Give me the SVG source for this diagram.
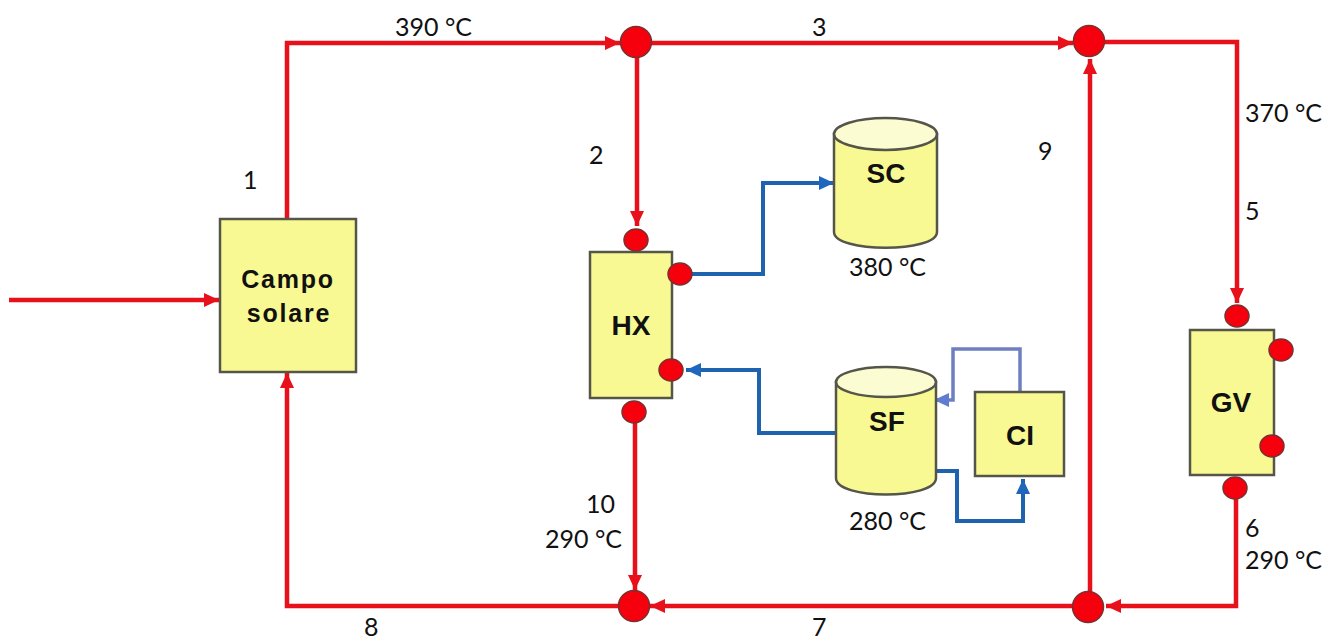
<svg xmlns="http://www.w3.org/2000/svg" width="1325" height="642" viewBox="0 0 1325 642">
<style>
.box{fill:#f9f993;stroke:#55554a;stroke-width:2.5}
.top{fill:#fcfcd2;stroke:#55554a;stroke-width:2.5}
.dot{fill:#f5000c;stroke:#7a3030;stroke-width:1.5}
.red{fill:none;stroke:#e8101a;stroke-width:4.500;stroke-linejoin:miter}
.blue{fill:none;stroke:#1f62ad;stroke-width:4}
.pale{fill:none;stroke:#6d7fc0;stroke-width:3.500}
.t{font-family:"Lato","Carlito","Open Sans",sans-serif;font-size:25px;fill:#111}
.b{font-family:"Liberation Sans",Arial,sans-serif;font-size:28px;font-weight:bold;fill:#111;text-anchor:middle}
.c{font-size:25px;letter-spacing:1.8px}
</style>
<defs>
<marker id="ar" markerUnits="userSpaceOnUse" markerWidth="16" markerHeight="16" refX="15" refY="8" orient="auto"><path d="M0 1L15 8L0 15Z" fill="#e8101a"/></marker>
<marker id="ab" markerUnits="userSpaceOnUse" markerWidth="16" markerHeight="16" refX="15" refY="8" orient="auto"><path d="M0 1L15 8L0 15Z" fill="#1f66bd"/></marker>
<marker id="ap" markerUnits="userSpaceOnUse" markerWidth="16" markerHeight="16" refX="15" refY="8" orient="auto"><path d="M0 1L15 8L0 15Z" fill="#5f7cd0"/></marker>
</defs>
<g id="connectors">
<path class="red" marker-end="url(#ar)" d="M9 300H219"/>
<path class="red" marker-end="url(#ar)" d="M287 219V43H620"/>
<path class="red" marker-end="url(#ar)" d="M637 43H1073"/>
<path class="red" marker-end="url(#ar)" d="M637 42V226"/>
<path class="red" marker-end="url(#ar)" d="M1088 42H1237V303"/>
<path class="red" marker-end="url(#ar)" d="M1236 488V606H1106"/>
<path class="red" marker-end="url(#ar)" d="M1088 606H650"/>
<path class="red" marker-end="url(#ar)" d="M1090 606V59"/>
<path class="red" marker-end="url(#ar)" d="M635 412V590"/>
<path class="red" marker-end="url(#ar)" d="M634 606H287V373"/>
<path class="blue" marker-end="url(#ab)" d="M680 274H763V183H834"/>
<path class="blue" marker-end="url(#ab)" d="M836 433H759V370H686"/>
<path class="blue" marker-end="url(#ab)" d="M936 471H957V521H1023V479"/>
<path class="pale" marker-end="url(#ap)" d="M1020 392V349H953V400H934"/>
</g>
<g id="campo"><rect class="box" x="220" y="219" width="136" height="153"/><text class="b c" x="288" y="288">Campo</text><text class="b c" x="289" y="322">solare</text></g>
<g id="hx"><rect class="box" x="590" y="252" width="82" height="146"/><text class="b" x="631" y="335">HX</text></g>
<g id="gv"><rect class="box" x="1190" y="330" width="84" height="145"/><text class="b" x="1231" y="412">GV</text></g>
<g id="ci"><rect class="box" x="975" y="392" width="89" height="84"/><text class="b" x="1020" y="445">CI</text></g>
<g id="sc"><path class="box" d="M834 134V232C834 253 937 253 937 232V134Z"/><ellipse class="top" cx="885.500" cy="134" rx="51.500" ry="16"/><text class="b" x="886" y="183">SC</text></g>
<g id="sf"><path class="box" d="M836 382V478C836 500 936 500 936 478V382Z"/><ellipse class="top" cx="886" cy="382" rx="50" ry="15"/><text class="b" x="887" y="431">SF</text></g>
<g id="joints">
<circle class="dot" cx="636" cy="42" r="15.500"/>
<circle class="dot" cx="1089" cy="41" r="15.500"/>
<circle class="dot" cx="634" cy="606" r="15.500"/>
<circle class="dot" cx="1088" cy="607" r="15.500"/>
<ellipse class="dot" cx="636" cy="240" rx="12" ry="11"/>
<ellipse class="dot" cx="634" cy="412" rx="12" ry="11"/>
<ellipse class="dot" cx="680" cy="274" rx="12" ry="11"/>
<ellipse class="dot" cx="671" cy="370" rx="12" ry="11"/>
<ellipse class="dot" cx="1237" cy="316" rx="12" ry="11"/>
<ellipse class="dot" cx="1235" cy="488" rx="12" ry="11"/>
<ellipse class="dot" cx="1281" cy="350" rx="12" ry="11"/>
<ellipse class="dot" cx="1272" cy="446" rx="12" ry="11"/>
</g>
<g id="labels">
<text class="t" x="395" y="36">390 °C</text>
<text class="t" x="812" y="36">3</text>
<text class="t" x="1245" y="122">370 °C</text>
<text class="t" x="1245" y="220">5</text>
<text class="t" x="243" y="189">1</text>
<text class="t" x="589" y="164">2</text>
<text class="t" x="1038" y="160">9</text>
<text class="t" x="849" y="276">380 °C</text>
<text class="t" x="849" y="530">280 °C</text>
<text class="t" x="586" y="513">10</text>
<text class="t" x="545" y="548">290 °C</text>
<text class="t" x="1245" y="537">6</text>
<text class="t" x="1245" y="569">290 °C</text>
<text class="t" x="364" y="636">8</text>
<text class="t" x="812" y="636">7</text>
</g>
</svg>
